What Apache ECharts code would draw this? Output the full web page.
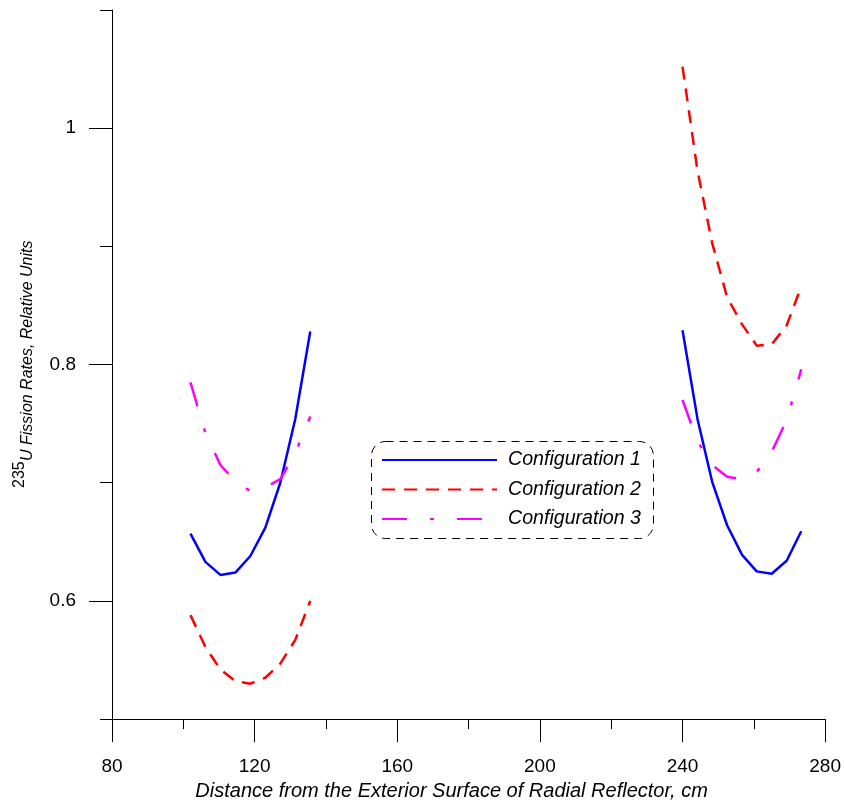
<!DOCTYPE html>
<html>
<head>
<meta charset="utf-8">
<script src="https://cdn.jsdelivr.net/npm/echarts@6/dist/echarts.min.js"></script>
<style>
  html, body { margin: 0; padding: 0; background: #fff; overflow: hidden; }
  #chart { width: 844px; height: 806px; }
</style>
</head>
<body>
<div id="chart"></div>
<script>
// Positions along the radial direction (cm) for the two measurement zones
const leftX  = [102, 106.2, 110.4, 114.6, 118.8, 123, 127.2, 131.4, 135.6];
const rightX = [240, 244.2, 248.3, 252.5, 256.7, 260.8, 265, 269.2, 273.3];

// 235U fission rates, relative units
const config1Left  = [0.657, 0.633, 0.622, 0.624, 0.638, 0.662, 0.700, 0.754, 0.828];
const config1Right = [0.829, 0.754, 0.701, 0.664, 0.639, 0.625, 0.623, 0.634, 0.659];
const config2Left  = [0.588, 0.561, 0.542, 0.532, 0.530, 0.535, 0.547, 0.567, 0.600];
const config2Right = [1.052, 0.964, 0.903, 0.857, 0.834, 0.816, 0.817, 0.833, 0.866];
const config3Left  = [0.785, 0.742, 0.715, 0.701, 0.693, 0.696, 0.703, 0.725, 0.756];
const config3Right = [0.770, 0.735, 0.715, 0.705, 0.703, 0.709, 0.726, 0.753, 0.796];

const seriesNames = ['Configuration 1', 'Configuration 2', 'Configuration 3'];

// Axis ticks
const yMajorTicks = [0.6, 0.8, 1.0];
const yMinorTicks = [0.5, 0.7, 0.9, 1.1];

const FONT = '"Liberation Sans", Arial, sans-serif';

const styles = [
  { color: '#0000ff', type: 'solid' },
  { color: '#ff0000', type: [13, 9] },
  { color: '#ff00ff', type: [25, 23, 4, 23] }
];

function pairs(xs, ys) { return xs.map((x, i) => [x, ys[i]]); }

function makeSeries(name, style, data) {
  return {
    name: name,
    type: 'line',
    data: data,
    symbol: 'none',
    showSymbol: false,
    smooth: false,
    lineStyle: { color: style.color, width: 2.5, type: style.type },
    itemStyle: { color: style.color },
    emphasis: { disabled: true },
    silent: true,
    z: 3
  };
}

const series = [
  makeSeries(seriesNames[0], styles[0], pairs(leftX, config1Left)),
  makeSeries(seriesNames[0], styles[0], pairs(rightX, config1Right)),
  makeSeries(seriesNames[1], styles[1], pairs(leftX, config2Left)),
  makeSeries(seriesNames[1], styles[1], pairs(rightX, config2Right)),
  makeSeries(seriesNames[2], styles[2], pairs(leftX, config3Left)),
  makeSeries(seriesNames[2], styles[2], pairs(rightX, config3Right))
];

const chart = echarts.init(document.getElementById('chart'), null, { renderer: 'canvas', width: 844, height: 806 });

chart.setOption({
  animation: false,
  backgroundColor: '#ffffff',
  textStyle: { fontFamily: FONT },
  grid: { left: 112, right: 18, top: 10, height: 717, containLabel: false },
  xAxis: {
    type: 'value',
    min: 80,
    max: 280,
    interval: 40,
    name: 'Distance from the Exterior Surface of Radial Reflector, cm',
    nameLocation: 'middle',
    nameGap: 59,
    nameTextStyle: { fontFamily: FONT, fontSize: 20, fontStyle: 'italic', color: '#000', padding: [0, 34, 0, 0] },
    axisLine: { show: true, onZero: false, lineStyle: { color: '#000', width: 1 } },
    axisTick: { show: true, inside: false, length: 23, lineStyle: { color: '#000', width: 1 } },
    minorTick: { show: true, splitNumber: 2, length: 10, lineStyle: { color: '#000', width: 1 } },
    axisLabel: { fontFamily: FONT, fontSize: 19, color: '#000', margin: 38 },
    splitLine: { show: false },
    minorSplitLine: { show: false }
  },
  yAxis: [
    {
      type: 'value',
      min: 0.5,
      max: 1.1,
      interval: 0.1,
      position: 'left',
      axisLine: { show: true, onZero: false, lineStyle: { color: '#000', width: 1 } },
      axisTick: { show: true, inside: false, length: 23, customValues: yMajorTicks, lineStyle: { color: '#000', width: 1 } },
      axisLabel: {
        fontFamily: FONT, fontSize: 19, color: '#000', margin: 36,
        customValues: yMajorTicks,
        formatter: v => (Math.abs(v - 1) < 1e-9 ? '1' : v.toFixed(1))
      },
      splitLine: { show: false }
    },
    {
      type: 'value',
      min: 0.5,
      max: 1.1,
      interval: 0.1,
      position: 'left',
      offset: 0,
      axisLine: { show: false },
      axisTick: { show: true, inside: false, length: 12, customValues: yMinorTicks, lineStyle: { color: '#000', width: 1 } },
      axisLabel: { show: false },
      splitLine: { show: false }
    }
  ],
  legend: {
    data: seriesNames,
    orient: 'vertical',
    left: 376,
    top: 445,
    itemWidth: 115,
    itemHeight: 14,
    itemGap: 9.5,
    selectedMode: false,
    itemStyle: { opacity: 0 },
    textStyle: { fontFamily: FONT, fontSize: 19.6, fontStyle: 'italic', color: '#000', padding: [0, 0, 0, 6] }
  },
  graphic: [
    {
      // dashed rounded frame around the legend
      type: 'rect',
      shape: { x: 371.5, y: 441.5, width: 282, height: 97, r: 14 },
      style: { fill: 'none', stroke: '#000', lineWidth: 1, lineDash: [8, 6] },
      silent: true,
      z: 1
    },
    {
      // vertical axis title: isotope mass number as a superscript
      type: 'text',
      x: 19.5,
      y: 488,
      rotation: Math.PI / 2,
      style: { text: '235', fontFamily: FONT, fontSize: 16, fill: '#000', align: 'left', verticalAlign: 'middle' },
      silent: true
    },
    {
      type: 'text',
      x: 27.5,
      y: 461,
      rotation: Math.PI / 2,
      style: { text: 'U Fission Rates, Relative Units', fontFamily: FONT, fontSize: 16, fontStyle: 'italic', fill: '#000', align: 'left', verticalAlign: 'middle' },
      silent: true
    }
  ],
  series: series
});
</script>
</body>
</html>
